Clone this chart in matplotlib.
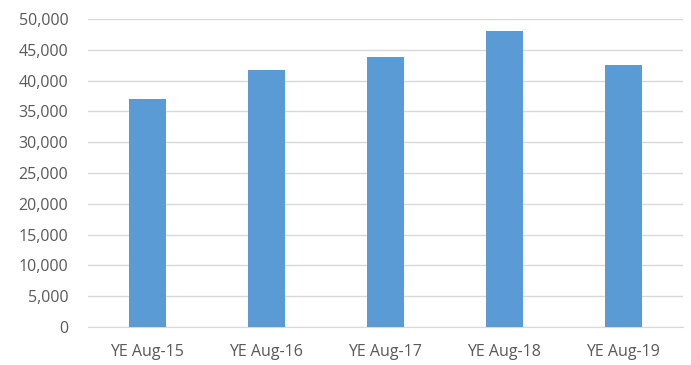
import matplotlib
matplotlib.use('Agg')
import matplotlib.pyplot as plt
from matplotlib.ticker import FuncFormatter, MultipleLocator

# 数据
categories = ['YE Aug-15', 'YE Aug-16', 'YE Aug-17', 'YE Aug-18', 'YE Aug-19']
values     = [37000, 41700, 43800, 48050, 42500]

plt.rcParams['font.family'] = ['Open Sans', 'DejaVu Sans']

fig = plt.figure(figsize=(6.91, 3.65), dpi=100)
ax  = fig.add_axes([0.127, 0.104, 0.861, 0.844])

x = range(len(categories))
ax.bar(x, values, width=0.31, color='#5b9bd5', zorder=3)

ax.set_xlim(-0.5, len(categories) - 0.5)
ax.set_ylim(0, 50000)
ax.yaxis.set_major_locator(MultipleLocator(5000))
ax.yaxis.set_major_formatter(FuncFormatter(lambda v, p: f'{int(v):,}'))
ax.set_xticks(list(x))
ax.set_xticklabels(categories)

ax.grid(axis='y', color='#d9d9d9', linewidth=1, zorder=0)
for s in ['top', 'right', 'left']:
    ax.spines[s].set_visible(False)
ax.spines['bottom'].set_color('#d9d9d9')
ax.tick_params(axis='both', length=0, labelsize=11.5, colors='#595959')
ax.tick_params(axis='y', pad=14)
ax.tick_params(axis='x', pad=12)

plt.savefig('out.png', dpi=100)
